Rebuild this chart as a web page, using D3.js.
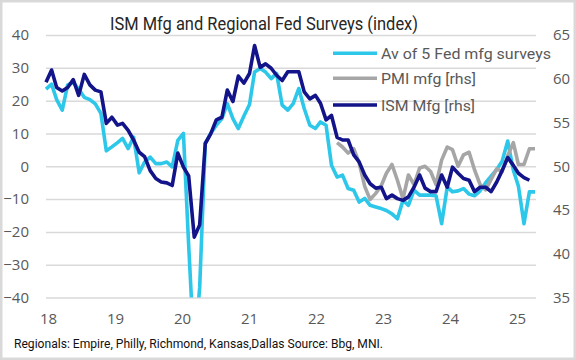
<!DOCTYPE html>
<html><head><meta charset="utf-8">
<script src="https://cdn.jsdelivr.net/npm/d3@7"></script>
<style>body{margin:0;background:#fff}svg{display:block}</style>
</head><body>
<svg id="c" width="576" height="360"></svg>
<script>
// ---------------- data ----------------
const firstMonth = "2018-01";      // first month of the monthly series
const lastMonth = "2025-06";       // last month on the axis
const pmiFirstMonth = "2022-06";   // PMI series begins here

// Average of 5 regional Fed manufacturing surveys (lhs), Jan 2018 - Jun 2025
const fedAvg = [
  23.5, 25.0, 20.3, 17.1, 24.8, 25.5, 23.5, 21.0, 20.3, 19.0, 16.1, 4.7,
  5.9, 7.2, 8.5, 5.4, 8.9, -2.0, 1.3, 2.8, 0.8, 0.8, 1.3, -0.2,
  7.9, 10.0, -24.0, -57.0, -37.0, 7.0, 10.0, 12.5, 14.5, 19.1, 14.5, 11.5,
  15.3, 18.8, 28.7, 29.8, 28.7, 26.7, 28.3, 18.6, 17.1, 19.1, 23.7, 17.6,
  12.5, 11.5, 13.5, 12.5, 0.3, -3.3, -2.7, -6.8, -7.3, -10.9, -9.8, -11.9,
  -12.4, -12.9, -13.5, -14.5, -16.0, -10.4, -11.9, -7.3, -8.8, -8.8, -8.8, -9.0,
  -17.5, -6.3, -7.8, -7.5, -6.8, -8.5, -9.0, -7.5, -5.0, -3.0, -1.0, 1.5,
  7.7, -1.2, -6.0, -17.5, -7.8, -7.8
];

// ISM Manufacturing (rhs), Jan 2018 - May 2025
const ismMfg = [
  59.6, 61.0, 59.0, 58.6, 59.0, 59.9, 58.1, 60.5, 59.3, 58.7, 58.5, 54.9,
  55.6, 54.7, 54.9, 54.1, 53.0, 51.6, 51.1, 49.5, 48.6, 48.2, 48.1, 47.8,
  51.5, 49.9, 48.9, 41.9, 43.3, 52.6, 53.7, 55.3, 55.6, 58.7, 57.4, 60.3,
  59.5, 60.6, 63.8, 61.3, 61.7, 61.2, 60.4, 59.8, 60.8, 60.8, 60.8, 58.5,
  57.7, 58.1, 57.2, 55.3, 55.8, 53.3, 53.0, 53.0, 51.3, 50.5, 49.0, 48.0,
  47.5, 47.6, 46.3, 46.7, 46.3, 46.1, 46.5, 47.6, 49.0, 47.5, 47.1, 47.1,
  49.0, 47.6, 49.9, 49.2, 48.6, 48.4, 47.1, 47.6, 47.6, 47.1, 48.2, 49.5,
  51.0, 50.1, 49.2, 48.7, 48.4
];

// S&P Global US Manufacturing PMI (rhs), Jun 2022 - Jun 2025
const pmiMfg = [
  52.7, 52.2, 51.5, 52.0, 50.4, 47.7, 46.2,
  46.9, 47.8, 49.2, 50.2, 48.4, 46.3, 49.0, 47.9, 49.8, 50.0, 49.4, 47.9,
  50.7, 52.2, 51.9, 50.0, 51.3, 51.6, 49.6, 47.9, 47.3, 48.5, 49.7, 49.4,
  51.2, 52.7, 50.2, 50.2, 52.0, 52.0
];

const yearLabels = ["18", "19", "20", "21", "22", "23", "24", "25"];
const leftTicks = [-40, -30, -20, -10, 0, 10, 20, 30, 40];
const rightTicks = [35, 40, 45, 50, 55, 60, 65];
const seriesNames = ["Av of 5 Fed mfg surveys", "PMI mfg [rhs]", "ISM Mfg [rhs]"];
const titleText = "ISM Mfg and Regional Fed Surveys (index)";
const noteText = "Regionals: Empire, Philly, Richmond, Kansas,Dallas Source: Bbg, MNI.";

// ---------------- drawing ----------------
const svg = d3.select("#c");
const parse = d3.timeParse("%Y-%m");
const t0 = parse(firstMonth), t1 = parse(lastMonth), tp = parse(pmiFirstMonth);
const toPoints = (vals, start) => vals.map((v, i) => ({ date: d3.timeMonth.offset(start, i), v }));

const colors = { fed: "#2DC7EA", pmi: "#A6A6A6", ism: "#13138A" };
const plot = { left: 46, right: 536, top: 35, bottom: 297.5 };

const x = d3.scaleTime().domain([t0, t1]).range([46, 535]);
const yL = d3.scaleLinear().domain([-40, 40]).range([plot.bottom, plot.top]);
const yR = d3.scaleLinear().domain([35, 65]).range([plot.bottom, plot.top]);
const xLab = d3.scalePoint().domain(yearLabels).range([48, 517]);

svg.append("rect").attr("x", 0).attr("y", 0).attr("width", 576).attr("height", 360).attr("fill", "#fff");
svg.append("rect").attr("x", 1.25).attr("y", 1.25).attr("width", 573.5).attr("height", 357.5)
  .attr("fill", "none").attr("stroke", "#D9D9D9").attr("stroke-width", 2.5);

// gridlines
const grid = svg.append("g").attr("transform", `translate(${plot.left},0)`)
  .call(d3.axisRight(yL).tickValues(leftTicks).tickSize(plot.right - plot.left).tickFormat(""));
grid.select(".domain").remove();
grid.selectAll("line").attr("stroke", "#D9D9D9").attr("stroke-width", 1.5);

const tickFont = "'Open Sans', sans-serif";
// left labels
const gl = svg.append("g").attr("transform", "translate(29,0)")
  .call(d3.axisLeft(yL).tickValues(leftTicks).tickSize(0).tickPadding(0));
gl.select(".domain").remove();
gl.selectAll("text").attr("font-family", tickFont).attr("font-size", 15).attr("fill", "#595959");

// right labels
const gr = svg.append("g").attr("transform", "translate(553,0)")
  .call(d3.axisRight(yR).tickValues(rightTicks).tickSize(0).tickPadding(0));
gr.select(".domain").remove();
gr.selectAll("text").attr("font-family", tickFont).attr("font-size", 15).attr("fill", "#595959");

// x labels
const gx = svg.append("g").attr("transform", "translate(0,313)")
  .call(d3.axisBottom(xLab).tickSize(0).tickPadding(0));
gx.select(".domain").remove();
gx.selectAll("text").attr("font-family", tickFont).attr("font-size", 15).attr("fill", "#595959");

// clip
svg.append("clipPath").attr("id", "clip").append("rect")
  .attr("x", plot.left - 2).attr("y", plot.top).attr("width", plot.right - plot.left + 4)
  .attr("height", plot.bottom - plot.top);

const lines = svg.append("g").attr("clip-path", "url(#clip)");
const lineL = d3.line().x(d => x(d.date)).y(d => yL(d.v));
const lineR = d3.line().x(d => x(d.date)).y(d => yR(d.v));

const drawLine = (data, gen, color) => lines.append("path").datum(data)
  .attr("d", gen).attr("fill", "none").attr("stroke", color).attr("stroke-width", 3.6)
  .attr("stroke-linejoin", "round").attr("stroke-linecap", "butt");

drawLine(toPoints(fedAvg, t0), lineL, colors.fed);
drawLine(toPoints(pmiMfg, tp), lineR, colors.pmi);
drawLine(toPoints(ismMfg, t0), lineR, colors.ism);

// legend
const legFont = "Roboto, 'Open Sans', sans-serif";
const legY = [53.3, 78.3, 105];
const legW = [170, 95, 94];
const legC = [colors.fed, colors.pmi, colors.ism];
seriesNames.forEach((name, i) => {
  svg.append("line").attr("x1", 333).attr("x2", 377).attr("y1", legY[i]).attr("y2", legY[i])
    .attr("stroke", legC[i]).attr("stroke-width", 3.6);
  svg.append("text").attr("x", 381).attr("y", legY[i] + 5.5).text(name)
    .attr("font-family", legFont).attr("font-size", 15.5).attr("fill", "#595959")
    .attr("textLength", legW[i]).attr("lengthAdjust", "spacingAndGlyphs");
});

// title
svg.append("text").attr("x", 264).attr("y", 29.5).attr("text-anchor", "middle").text(titleText)
  .attr("font-family", legFont).attr("font-size", 18.5).attr("fill", "#262626")
  .attr("textLength", 308).attr("lengthAdjust", "spacingAndGlyphs");

// footnote
svg.append("text").attr("x", 14).attr("y", 347.5).text(noteText)
  .attr("font-family", legFont).attr("font-size", 12.5).attr("fill", "#111")
  .attr("textLength", 369).attr("lengthAdjust", "spacingAndGlyphs");
</script>
</body></html>
